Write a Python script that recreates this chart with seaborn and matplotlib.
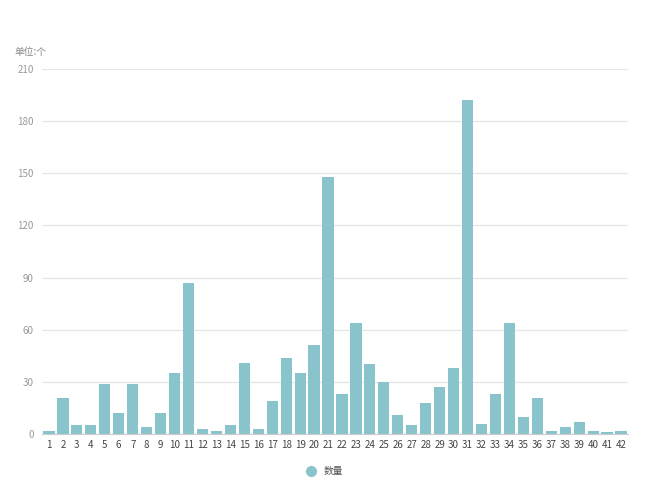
import matplotlib.pyplot as plt
import seaborn as sns
import pandas as pd
from matplotlib.lines import Line2D

# values
categories = [str(i) for i in range(1, 43)]
counts = [2, 21, 5, 5, 29, 12, 29, 4, 12, 35, 87, 3, 2, 5, 41, 3, 19, 44, 35, 51,
          148, 23, 64, 40, 30, 11, 5, 18, 27, 38, 192, 6, 23, 64, 10, 21, 2, 4, 7, 2, 1, 2]
y_ticks = [0, 30, 60, 90, 120, 150, 180, 210]
series_name = '数量'
unit_label = '单位:个'

df = pd.DataFrame({'cat': categories, 'value': counts})

sns.set_style('white')
plt.rcParams['font.family'] = ['Noto Sans CJK SC', 'DejaVu Sans']

bar_color = '#89c4cc'
fig = plt.figure(figsize=(6.5, 4.79), dpi=100)
ax = fig.add_axes([42 / 650, 1 - 434 / 479, 586 / 650, 365 / 479])

sns.barplot(data=df, x='cat', y='value', color=bar_color, width=0.8,
            saturation=1, linewidth=0, ax=ax, zorder=3)

ax.set_ylim(0, 210)
ax.set_xlim(-0.5, len(categories) - 0.5)
ax.set_yticks(y_ticks)
ax.yaxis.grid(True, color='#e6e6e6', linewidth=0.9, zorder=0)
ax.set_axisbelow(True)
for s in ['left', 'right', 'top']:
    ax.spines[s].set_visible(False)
ax.spines['bottom'].set_color('#cccccc')
ax.tick_params(axis='y', length=0, labelsize=7, labelcolor='#999999', pad=6)
ax.tick_params(axis='x', length=0, labelsize=7, labelcolor='#444444', pad=4)
ax.set_xlabel('')
ax.set_ylabel('')

fig.text(14 / 650, 1 - 52 / 479, unit_label, fontsize=7, color='#888888', va='center')

handle = Line2D([], [], marker='o', linestyle='', markersize=7,
                markerfacecolor=bar_color, markeredgecolor=bar_color)
fig.legend([handle], [series_name], loc='center', bbox_to_anchor=(322 / 650, 1 - 471 / 479),
           frameon=False, fontsize=7, handletextpad=0.3, labelcolor='#555555')

fig.savefig('out.png', dpi=100)
